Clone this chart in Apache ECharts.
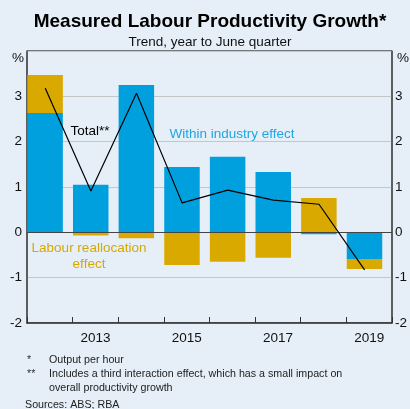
<!DOCTYPE html>
<html><head><meta charset="utf-8">
<script src="https://cdn.jsdelivr.net/npm/echarts@6/dist/echarts.min.js"></script>
<style>html,body{margin:0;padding:0;background:#E6EFF8}#c{width:410px;height:409px}</style>
</head><body><div id="c"></div>
<script>
const years = ['2012','2013','2014','2015','2016','2017','2018','2019'];
const withinIndustry = [2.63, 1.05, 3.25, 1.44, 1.67, 1.33, -0.04, -0.59];
const labourRealloc = [0.84, -0.07, -0.13, -0.72, -0.65, -0.56, 0.76, -0.22];
const total = [3.18, 0.91, 3.07, 0.65, 0.93, 0.71, 0.62, -0.83];
const yMin = -2, yMax = 4, yStep = 1;

const BLUE = '#00A0DE', GOLD = '#D9A900';
const FONT = 'Liberation Sans, Arial, sans-serif';
const chart = echarts.init(document.getElementById('c'), null, {renderer: 'canvas'});

const yAxisBase = {
  type: 'value', min: yMin, max: yMax, interval: yStep,
  axisLine: {show: true, lineStyle: {color: '#555', width: 1.5}},
  axisTick: {show: false},
  axisLabel: {color: '#111', fontSize: 13.5, fontFamily: FONT,
    formatter: v => (v === yMax ? '' : String(v))}
};

function txt(x, y, text, size, opts) {
  opts = opts || {};
  return {type: 'text', x: x, y: y, silent: true, z: 100,
    style: {text: text, font: (opts.bold ? 'bold ' : '') + size + 'px ' + FONT,
      fill: opts.color || '#000', textAlign: opts.align || 'left', textVerticalAlign: 'middle'}};
}

chart.setOption({
  backgroundColor: '#E6EFF8',
  animation: false,
  grid: {left: 27, right: 14, top: 51, bottom: 86, show: true, borderColor: '#000', borderWidth: 1},
  xAxis: [{
    type: 'category', data: years, boundaryGap: true,
    axisLine: {show: true, onZero: false, lineStyle: {color: '#333', width: 1.5}},
    axisTick: {show: true, inside: true, length: 6, interval: 0, lineStyle: {color: '#333'}},
    axisLabel: {interval: (i) => i % 2 === 1, color: '#111', fontSize: 13.5, fontFamily: FONT, margin: 8},
    splitLine: {show: false}
  }, {
    type: 'value', min: 0, max: years.length, show: false
  }],
  yAxis: [
    Object.assign({}, yAxisBase, {position: 'left',
      axisLabel: Object.assign({}, yAxisBase.axisLabel, {margin: 5}),
      splitLine: {show: true, lineStyle: {color: '#C4C6C8', width: 1}}}),
    Object.assign({}, yAxisBase, {position: 'right',
      axisLabel: Object.assign({}, yAxisBase.axisLabel, {margin: 3}),
      splitLine: {show: false}})
  ],
  series: [
    {name: 'Within industry effect', type: 'bar', stack: 'a', xAxisIndex: 0, yAxisIndex: 0,
      barWidth: 35.5, barGap: '0%', itemStyle: {color: BLUE}, data: withinIndustry},
    {name: 'Labour reallocation effect', type: 'bar', stack: 'a', xAxisIndex: 0, yAxisIndex: 0,
      barWidth: 35.5, barGap: '0%', itemStyle: {color: GOLD}, data: labourRealloc},
    {name: 'spacer', type: 'bar', stack: 'b', xAxisIndex: 0, yAxisIndex: 0, silent: true,
      barWidth: 9.4, barGap: '0%', data: years.map(() => null)},
    {name: 'Total', type: 'line', xAxisIndex: 1, yAxisIndex: 0, symbol: 'none', z: 5,
      lineStyle: {color: '#000', width: 1.2},
      data: total.map((v, i) => [i + 0.4, v]),
      markLine: {silent: true, symbol: ['none', 'none'], label: {show: false},
        lineStyle: {color: '#444', width: 1, type: 'solid'}, data: [{yAxis: 0}]}}
  ],
  graphic: [
    txt(210, 22, 'Measured Labour Productivity Growth*', 19, {bold: true, align: 'center'}),
    txt(210, 42, 'Trend, year to June quarter', 13.5, {align: 'center', color: '#111'}),
    txt(18, 58, '%', 13.5, {align: 'center', color: '#111'}),
    txt(403, 58, '%', 13.5, {align: 'center', color: '#111'}),
    txt(90, 131, 'Total**', 13.5, {align: 'center', color: '#000'}),
    txt(232, 134, 'Within industry effect', 13.5, {align: 'center', color: '#1DA6E2'}),
    txt(89, 248, 'Labour reallocation', 13.5, {align: 'center', color: '#D6A800'}),
    txt(89, 264, 'effect', 13.5, {align: 'center', color: '#D6A800'}),
    txt(27, 360, '*', 10.7, {color: '#333'}),
    txt(49, 360, 'Output per hour', 10.7, {color: '#222'}),
    txt(27, 374, '**', 10.7, {color: '#333'}),
    txt(49, 374, 'Includes a third interaction effect, which has a small impact on', 10.7, {color: '#222'}),
    txt(49, 388, 'overall productivity growth', 10.7, {color: '#222'}),
    txt(25, 405, 'Sources: ABS; RBA', 10.7, {color: '#222'})
  ]
});
</script></body></html>
